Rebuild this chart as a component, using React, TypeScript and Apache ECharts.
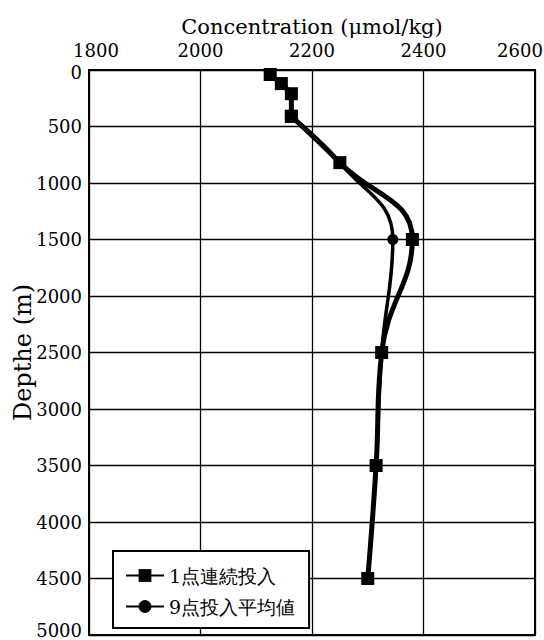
import React, { useEffect, useRef } from "react";
import * as echarts from "echarts";

const xTicks = [1800, 2600, 200];
const yTicks = [0, 5000, 500];
const seriesNames = ["1点連続投入", "9点投入平均値"];
const depth = [40, 120, 210, 410, 820, 1500, 2500, 3500, 4500];
const conc1 = [2125, 2145, 2163, 2163, 2250, 2380, 2325, 2315, 2300];
const conc2 = [2125, 2145, 2163, 2163, 2250, 2345, 2325, 2315, 2300];
// index where the straight upper part ends and the smooth curve begins
const curveStart = 3;

const FONT = "DejaVu Serif";
const TICK = 18;

export default function App() {
  const ref = useRef<HTMLDivElement>(null);
  useEffect(() => {
    if (!ref.current) return;
    const chart = echarts.init(ref.current, undefined, { renderer: "svg" });
    const d1 = depth.map((d, i) => [conc1[i], d]);
    const d2 = depth.map((d, i) => [conc2[i], d]);
    const mk = (name: string, data: number[][], smooth: boolean, symbol: string, size: number, width: number, z: number) => ({
      name,
      type: "line",
      data,
      smooth: smooth ? 0.45 : false,
      symbol,
      symbolSize: size,
      z,
      itemStyle: { color: "#000" },
      lineStyle: { color: "#000", width },
    });
    const tickStyle = { fontFamily: FONT, fontSize: TICK, color: "#000" };
    chart.setOption({
      animation: false,
      backgroundColor: "#fff",
      textStyle: { fontFamily: FONT, color: "#000" },
      grid: {
        left: 89,
        right: 9,
        top: 70,
        bottom: 5,
        show: true,
        borderColor: "#000",
        borderWidth: 2,
        containLabel: false,
        outerBoundsMode: "none",
      },
      xAxis: {
        type: "value",
        position: "top",
        min: xTicks[0],
        max: xTicks[1],
        interval: xTicks[2],
        name: "Concentration (μmol/kg)",
        nameLocation: "middle",
        nameGap: 33,
        nameMoveOverlap: false,
        nameTextStyle: { fontFamily: FONT, fontSize: 21, color: "#000" },
        axisLine: { show: true, lineStyle: { color: "#000", width: 2 } },
        axisTick: { show: false },
        axisLabel: {
          ...tickStyle,
          margin: 11,
          formatter: (v: number) =>
            v === xTicks[0] ? `{l|${v}}` : v === xTicks[1] ? `{r|${v}}` : String(v),
          rich: {
            l: { ...tickStyle, padding: [0, 0, 0, 14] },
            r: { ...tickStyle, padding: [0, 30, 0, 0] },
          },
        },
        splitLine: { show: true, lineStyle: { color: "#000", width: 1.3 } },
      },
      yAxis: {
        type: "value",
        inverse: true,
        min: yTicks[0],
        max: yTicks[1],
        interval: yTicks[2],
        name: "Depthe (m)",
        nameLocation: "middle",
        nameRotate: 90,
        nameGap: 54,
        nameMoveOverlap: false,
        nameTextStyle: { fontFamily: FONT, fontSize: 24, color: "#000" },
        axisLine: { show: true, lineStyle: { color: "#000", width: 2 } },
        axisTick: { show: false },
        axisLabel: {
          ...tickStyle,
          margin: 7,
          formatter: (v: number) =>
            v === yTicks[0] ? `{t|${v}}` : v === yTicks[1] ? `{b|${v}}` : String(v),
          rich: {
            t: { ...tickStyle, padding: [4, 0, 0, 0] },
            b: { ...tickStyle, padding: [0, 0, 10, 0] },
          },
        },
        splitLine: { show: true, lineStyle: { color: "#000", width: 1.3 } },
      },
      legend: {
        data: seriesNames,
        orient: "vertical",
        left: 113,
        top: 551,
        backgroundColor: "#fff",
        borderColor: "#000",
        borderWidth: 2,
        borderRadius: 0,
        padding: [15, 14, 12, 12],
        itemWidth: 38,
        itemHeight: 16,
        itemGap: 12,
        textStyle: { fontFamily: FONT, fontSize: 19, color: "#000" },
      },
      series: [
        mk(seriesNames[0], d1.slice(0, curveStart + 1), false, "rect", 13, 5, 4),
        mk(seriesNames[0], d1.slice(curveStart), true, "rect", 13, 5, 4),
        mk(seriesNames[1], d2.slice(0, curveStart + 1), false, "circle", 11, 3.5, 2),
        mk(seriesNames[1], d2.slice(curveStart), true, "circle", 11, 3.5, 2),
      ],
    });
    return () => chart.dispose();
  }, []);
  return (
    <div
      ref={ref}
      style={{ position: "fixed", left: 0, top: 0, width: 544, height: 640, background: "#fff" }}
    />
  );
}
